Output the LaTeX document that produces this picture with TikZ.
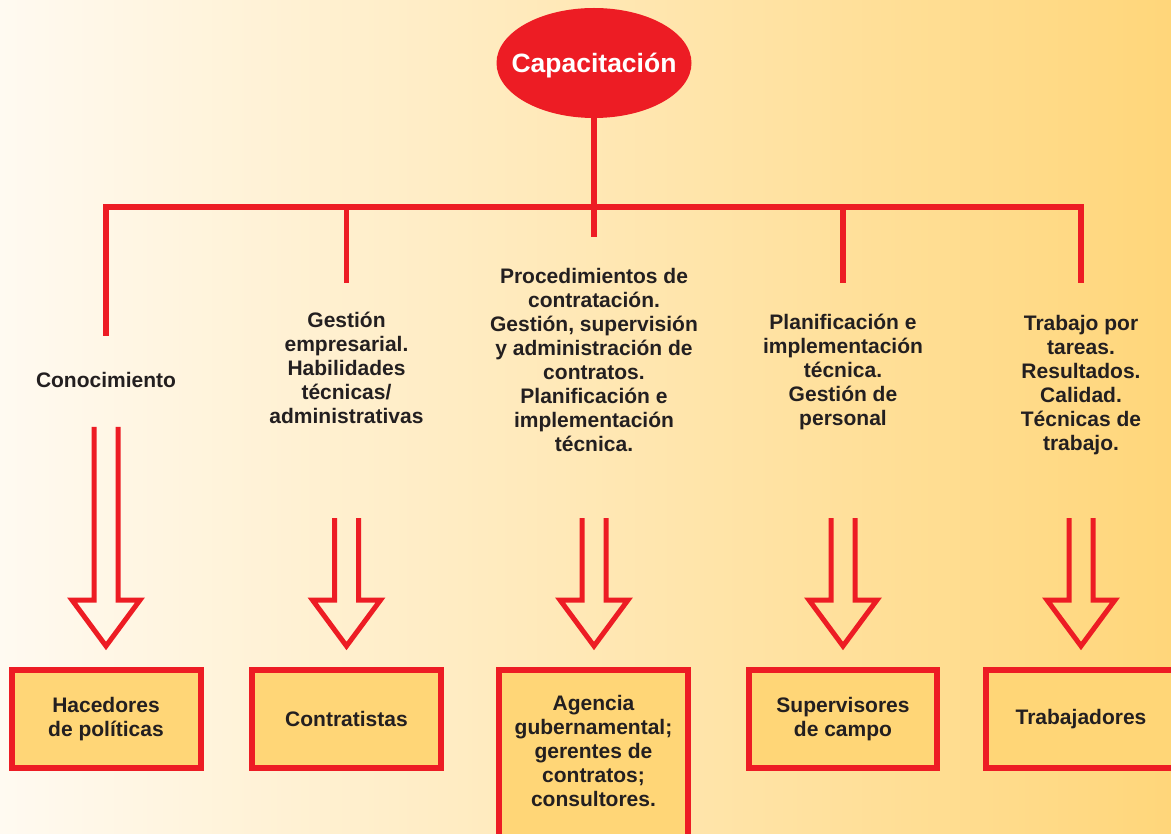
\documentclass[tikz,border=0pt]{standalone}
\usepackage{fontspec}
\setmainfont{Liberation Sans}
\usetikzlibrary{shapes.geometric}
\definecolor{capred}{HTML}{ED1C24}
\definecolor{boxfill}{HTML}{FFD677}
\definecolor{bgleft}{HTML}{FFFAF1}
\definecolor{bgright}{HTML}{FFD67A}
\definecolor{txt}{HTML}{231F20}
\tikzset{
  redline/.style={draw=capred,line width=5.5pt},
  lbl/.style={align=center,font=\bfseries\fontsize{21}{24}\selectfont,text=txt,inner sep=0pt},
  rolebox/.style={draw=capred,line width=6pt,fill=boxfill,inner sep=0pt,align=center,
    font=\bfseries\fontsize{21}{24}\selectfont,text=txt},
  pics/harrow/.style={code={\draw[capred,line width=5pt] (-12,-#1) -- (-12,-46) -- (-34,-46) -- (0,0) -- (34,-46) -- (12,-46) -- (12,-#1);}}
}
\begin{document}
\begin{tikzpicture}[x=1pt,y=-1pt]
\useasboundingbox (0,0) rectangle (1171,834);
\clip (0,0) rectangle (1171,834);
\shade[left color=bgleft,right color=bgright] (0,0) rectangle (1171,834);

% top node
\node[ellipse,fill=capred,minimum width=195pt,minimum height=110pt,inner sep=0pt] (cap) at (594,63) {};
\node[inner sep=0pt,text=white,font=\bfseries\fontsize{26.5}{30}\selectfont] (capt) at (594,66) {Capacitación};

% tree connectors
\coordinate (j1) at (106,207);
\coordinate (j2) at (346.5,207);
\coordinate (j3) at (594,207);
\coordinate (j4) at (843,207);
\coordinate (j5) at (1081,207);
\coordinate (e1) at (106,336);
\coordinate (e2) at (346.5,283);
\coordinate (e3) at (594,237);
\coordinate (e4) at (843,283);
\coordinate (e5) at (1081,283);
\draw[redline] (e1) -- (j1) -- (j5) -- (e5);
\draw[redline] (cap.south) -- (e3);
\draw[redline] (j2) -- (e2);
\draw[redline] (j4) -- (e4);

% branch labels
\node[lbl] (t1) at (106,380) {Conocimiento};
\node[lbl] (t2) at (346.5,368) {Gestión\\empresarial.\\Habilidades\\técnicas/\\administrativas};
\node[lbl] (t3) at (594,360) {Procedimientos de\\contratación.\\Gestión, supervisión\\y administración de\\contratos.\\Planificación e\\implementación\\técnica.};
\node[lbl] (t4) at (843,372) {Planificación e\\implementación\\técnica.\\Gestión de\\personal};
\node[lbl] (t5) at (1081,385) {Trabajo por\\tareas.\\Resultados.\\Calidad.\\Técnicas de\\trabajo.};

% hollow arrows
\pic (a1) at (106,646) {harrow=219};
\pic (a2) at (346.5,646) {harrow=128};
\pic (a3) at (594,646) {harrow=128};
\pic (a4) at (843,646) {harrow=128};
\pic (a5) at (1081,646) {harrow=128};

% role boxes
\node[rolebox,minimum width=189pt,minimum height=98pt] (b1) at (106,719) {Hacedores\\de políticas};
\node[rolebox,minimum width=189pt,minimum height=98pt] (b2) at (346.5,719) {Contratistas};
\node[rolebox,minimum width=189pt,minimum height=210pt] (b3) at (593.5,775) {};
\node[lbl] (b3t) at (593.5,751) {Agencia\\gubernamental;\\gerentes de\\contratos;\\consultores.};
\node[rolebox,minimum width=188pt,minimum height=98pt] (b4) at (843,719) {Supervisores\\de campo};
\node[rolebox,minimum width=204pt,minimum height=98pt] (b5) at (1088,719) {};
\node[lbl] (b5t) at (1081,719) {Trabajadores};
\end{tikzpicture}
\end{document}
